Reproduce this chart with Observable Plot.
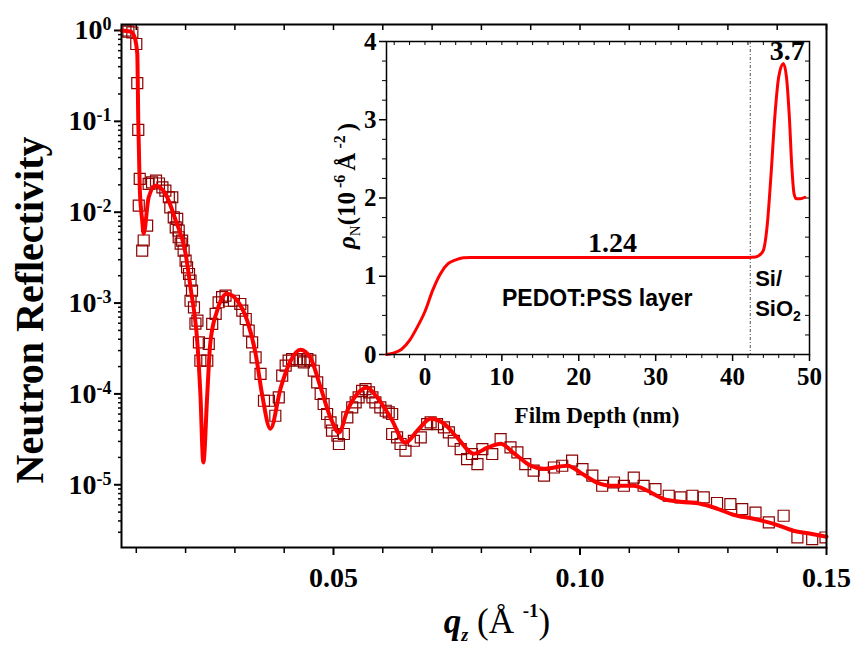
<!DOCTYPE html>
<html><head><meta charset="utf-8">
<script src="https://cdn.jsdelivr.net/npm/d3@7"></script>
<script src="https://cdn.jsdelivr.net/npm/@observablehq/plot@0.6"></script>
<style>
body{margin:0;background:#fff;}
#wrap{position:relative;width:854px;height:646px;overflow:hidden;}
#wrap svg{position:absolute;left:0;top:0;}
</style></head><body><div id="wrap"></div>
<script>
// ---- main panel: measured reflectivity (open squares) ----
const qData = [0.0078,0.0084,0.0092,0.0100,0.0102,0.0104,0.0105,0.0107,0.0112,0.0115,0.0122,0.0125,0.0132,0.0140,0.0146,0.0153,0.0159,0.0166,0.0169,0.0173,0.0176,0.0180,0.0183,0.0186,0.0186,0.0190,0.0193,0.0196,0.0200,0.0203,0.0207,0.0210,0.0210,0.0213,0.0217,0.0220,0.0224,0.0227,0.0230,0.0244,0.0247,0.0254,0.0261,0.0267,0.0274,0.0281,0.0288,0.0298,0.0311,0.0315,0.0322,0.0328,0.0335,0.0342,0.0352,0.0359,0.0369,0.0382,0.0389,0.0396,0.0403,0.0409,0.0416,0.0426,0.0433,0.0440,0.0447,0.0453,0.0460,0.0467,0.0474,0.0480,0.0487,0.0494,0.0497,0.0508,0.0511,0.0521,0.0528,0.0538,0.0545,0.0551,0.0558,0.0565,0.0572,0.0579,0.0585,0.0595,0.0606,0.0612,0.0619,0.0619,0.0629,0.0636,0.0646,0.0663,0.0677,0.0690,0.0697,0.0710,0.0724,0.0734,0.0744,0.0758,0.0771,0.0781,0.0792,0.0802,0.0822,0.0839,0.0859,0.0873,0.0889,0.0906,0.0927,0.0947,0.0964,0.0984,0.1005,0.1025,0.1045,0.1069,0.1089,0.1109,0.1129,0.1153,0.1180,0.1204,0.1228,0.1251,0.1278,0.1305,0.1329,0.1356,0.1383,0.1413,0.1441,0.1471,0.1498];
const rData = [1.00,0.97,0.95,0.71,0.263,0.0806,0.0118,0.0233,0.00378,0.00488,0.00711,0.0205,0.0213,0.0223,0.0207,0.0188,0.0173,0.0146,0.0113,0.0146,0.00879,0.00682,0.00843,0.0053,0.00627,0.00451,0.00487,0.00378,0.00293,0.00247,0.00209,0.00177,0.00106,0.00137,0.000897,0.000593,0.00064,0.000369,0.000232,0.000232,0.000355,0.000589,0.000759,0.00102,0.00116,0.00121,0.00106,0.00106,0.000977,0.000824,0.000668,0.000497,0.000369,0.000252,0.000166,8.41e-5,8.41e-5,5.75e-5,9.16e-5,1.59e-4,2.05e-4,2.32e-4,2.42e-4,2.42e-4,2.32e-4,2.22e-4,2.42e-4,2.32e-4,1.80e-4,1.34e-4,9.98e-5,7.74e-5,6.01e-5,4.86e-5,3.94e-5,3.47e-5,2.81e-5,3.62e-5,5.51e-5,7.10e-5,8.06e-5,9.16e-5,1.08e-4,1.13e-4,1.04e-4,9.16e-5,8.06e-5,7.10e-5,6.53e-5,6.25e-5,6.01e-5,3.62e-5,3.32e-5,2.81e-5,2.37e-5,3.05e-5,3.32e-5,4.66e-5,4.86e-5,4.66e-5,4.28e-5,3.77e-5,3.05e-5,2.47e-5,1.92e-5,2.18e-5,1.69e-5,2.47e-5,2.18e-5,3.18e-5,2.58e-5,2.27e-5,1.69e-5,1.43e-5,1.26e-5,1.55e-5,1.62e-5,1.84e-5,1.49e-5,1.26e-5,9.75e-6,1.06e-5,9.75e-6,1.20e-5,9.75e-6,8.97e-6,7.57e-6,7.25e-6,7.57e-6,7.25e-6,6.30e-6,6.14e-6,5.40e-6,4.95e-6,3.85e-6,4.56e-6,2.63e-6,2.52e-6,2.63e-6];
// ---- main panel: fitted curve ----
const qFit = [0.0070,0.0088,0.0096,0.0102,0.0104,0.0107,0.0112,0.0115,0.0125,0.0139,0.0159,0.0180,0.0200,0.0210,0.0224,0.0230,0.0236,0.0244,0.0250,0.0264,0.0284,0.0305,0.0325,0.0342,0.0355,0.0372,0.0393,0.0413,0.0433,0.0453,0.0474,0.0494,0.0511,0.0528,0.0548,0.0568,0.0589,0.0616,0.0646,0.0670,0.0697,0.0724,0.0751,0.0785,0.0812,0.0839,0.0865,0.0900,0.0926,0.0975,0.1001,0.1036,0.1062,0.1109,0.1137,0.1169,0.1204,0.1244,0.1279,0.1311,0.1352,0.1393,0.1433,0.1468,0.1500];
const rFit = [1.0,0.975,0.86,0.558,0.102,0.0187,0.00809,0.00581,0.0145,0.0196,0.016,0.00809,0.0035,0.00148,0.000357,0.0001,0.0000176,0.0001,0.000357,0.000824,0.00127,0.00106,0.00064,0.000277,0.0001,0.0000414,0.000117,0.000232,0.000307,0.000251,0.000117,0.0000547,0.0000374,0.0000653,0.0001,0.000117,0.0000908,0.0000547,0.000029,0.0000394,0.0000533,0.000047,0.000033,0.000022,0.0000256,0.0000283,0.0000225,0.0000162,0.000015,0.0000162,0.0000136,0.0000105,0.00000975,0.00000975,0.00000859,0.00000701,0.0000065,0.00000618,0.00000544,0.00000468,0.00000423,0.00000372,0.00000312,0.00000289,0.00000268];
const yMajor = [1,1e-1,1e-2,1e-3,1e-4,1e-5];
const yMajorExp = ["0","-1","-2","-3","-4","-5"];
const xMajor = [0.05,0.10,0.15];
const xMajorLabels = ["0.05","0.10","0.15"];
const xMinor = [0.01,0.02,0.03,0.04,0.06,0.07,0.08,0.09,0.11,0.12,0.13,0.14];

// ---- inset: SLD depth profile ----
const depth = [-5,-4,-3,-2,-1,0,1,2,3,4,5,6,10,20,30,40,42,43,43.5,44,44.5,45,45.5,46,46.6,47,47.4,47.7,48,48.3,48.8,49.4];
const sld   = [0,0.02,0.07,0.18,0.35,0.55,0.82,1.03,1.16,1.21,1.235,1.24,1.24,1.24,1.24,1.24,1.24,1.245,1.27,1.33,1.65,2.3,3.05,3.55,3.72,3.55,3.0,2.4,2.05,1.99,1.99,2.01];
const insetYMajor = [0,1,2,3,4];
const insetXMajor = [0,10,20,30,40,50];
const interfaceDepth = 42.3;
const serifNotes = [
  {x:24.4, y:1.24, text:"1.24"},
  {x:47.1, y:3.7, text:"3.7"}
];
const layerNote = [{x:22.4, y:0.72, text:"PEDOT:PSS layer"}];

const W = 854, H = 646;
const SERIF = "'Liberation Serif', serif";
const logMinor = [];
for (let k = -6; k <= 0; k++) for (let m = 2; m <= 9; m++) { const v = m * Math.pow(10, k); if (v > 2.05e-6 && v < 1.16) logMinor.push(v); }

const dataRows = qData.map((q, i) => ({q, r: rData[i]}));
const fitRows = qFit.map((q, i) => ({q, r: rFit[i]}));
const tickText = {fontVariant: "normal", fontFamily: SERIF, fontWeight: "bold"};

const main = Plot.plot({
  width: W, height: H,
  marginLeft: 121, marginRight: 28, marginTop: 24, marginBottom: 99,
  style: {background: "transparent", fontFamily: SERIF, color: "#000"},
  x: {domain: [0.007, 0.15]},
  y: {type: "log", domain: [2.04e-6, 1.164]},
  marks: [
    Plot.axisY(logMinor, {tickSize: 3, text: null, label: null, strokeWidth: 1.5}),
    Plot.axisY(yMajor, {tickSize: 7, tickPadding: 3, label: null, strokeWidth: 2, fontSize: 28, ...tickText,
      tickFormat: d => "10|" + yMajorExp[yMajor.indexOf(d)]}),
    Plot.axisX(xMinor, {tickSize: 6, text: null, label: null, strokeWidth: 1.5}),
    Plot.axisX(xMajor, {tickSize: 8, tickPadding: 12, label: null, strokeWidth: 2, fontSize: 28, ...tickText,
      tickFormat: d => xMajorLabels[xMajor.indexOf(d)]}),
    Plot.ruleX(xMinor.concat(xMajor), {insetBottom: 523 - 6, stroke: "#000", strokeWidth: 1.5}),
    Plot.dot(dataRows, {x: "q", y: "r", symbol: "square", r: 6.2, stroke: "#8B0000", strokeWidth: 1.2, fill: "none", clip: true}),
    Plot.line(fitRows, {x: "q", y: "r", stroke: "#ff0000", strokeWidth: 4, curve: "monotone-x"}),
    Plot.frame({stroke: "#000", strokeWidth: 2})
  ]
});

const insetMinorY = d3.range(0, 4.001, 0.25).filter(v => !insetYMajor.includes(v));
const insetMinorX = d3.range(-4, 50.001, 2).filter(v => !insetXMajor.includes(v));
const sldRows = depth.map((d, i) => ({d, s: sld[i]}));

const inset = Plot.plot({
  width: W, height: H,
  marginLeft: 386, marginRight: 45, marginTop: 41, marginBottom: 292,
  style: {background: "transparent", fontFamily: SERIF, color: "#000"},
  x: {domain: [-5, 50]},
  y: {domain: [0, 4]},
  marks: [
    Plot.axisY(insetMinorY, {tickSize: 4, text: null, label: null}),
    Plot.axisY(insetYMajor, {tickSize: 7, tickPadding: 3, label: null, strokeWidth: 1.5, fontSize: 25, ...tickText, tickFormat: d => String(d)}),
    Plot.axisX(insetMinorX, {tickSize: 4, text: null, label: null}),
    Plot.axisX(insetXMajor, {tickSize: 7, tickPadding: 6, label: null, strokeWidth: 1.5, fontSize: 25, ...tickText, tickFormat: d => String(d)}),
    Plot.ruleY(insetMinorY.concat(insetYMajor), {insetLeft: 423 - 4, stroke: "#000"}),
    Plot.ruleX(insetMinorX.concat(insetXMajor), {insetBottom: 313 - 4, stroke: "#000"}),
    Plot.ruleX([interfaceDepth], {stroke: "#555", strokeWidth: 1, strokeDasharray: "3,2,1,2"}),
    Plot.line(sldRows, {x: "d", y: "s", stroke: "#ff0000", strokeWidth: 3, curve: "monotone-x"}),
    Plot.text(serifNotes, {x: "x", y: "y", text: "text", dy: -14, fontFamily: SERIF, fontSize: 28, fontWeight: "bold", fill: "#000"}),
    Plot.text(layerNote, {x: "x", y: "y", text: "text", fontFamily: "'Liberation Sans', sans-serif", fontSize: 23, fontWeight: "bold", fill: "#000"}),
    Plot.frame({stroke: "#000", strokeWidth: 1.5})
  ]
});

const wrap = document.getElementById("wrap");
wrap.appendChild(main);
wrap.appendChild(inset);

// superscripts on log tick labels
d3.select(main).selectAll('g[aria-label="y-axis tick label"] text').each(function() {
  const parts = this.textContent.split("|");
  const s = d3.select(this);
  s.text(parts[0]);
  s.append("tspan").attr("dy", "-0.5em").style("font-size", "18px").text(parts[1]);
});

const ms = d3.select(main);
// y label
ms.append("text").attr("transform", "translate(43,310) rotate(-90)").attr("text-anchor", "middle")
  .style("font-family", SERIF).style("font-weight", "bold").style("font-size", "40px").attr("fill", "#000")
  .text("Neutron Reflectivity");
// x label
const xl = ms.append("text").attr("x", 497).attr("y", 633).attr("text-anchor", "middle")
  .style("font-family", SERIF).style("font-size", "35px").attr("fill", "#000");
xl.append("tspan").style("font-weight", "bold").style("font-style", "italic").text("q");
xl.append("tspan").style("font-weight", "bold").style("font-style", "italic").style("font-size", "18px").attr("dy", 8).text("z");
xl.append("tspan").attr("dy", -8).text(" (Å ");
xl.append("tspan").style("font-weight", "bold").style("font-size", "19px").attr("dy", -16).text("-1");
xl.append("tspan").attr("dy", 16).text(")");

const is = d3.select(inset);
const sx = inset.scale("x"), sy = inset.scale("y");
// inset y label
const yl = is.append("text").attr("transform", "translate(355,186) rotate(-90)").attr("text-anchor", "middle")
  .style("font-family", SERIF).style("font-weight", "bold").style("font-size", "25px").attr("fill", "#000");
yl.append("tspan").style("font-style", "italic").text("ρ");
yl.append("tspan").style("font-size", "15px").style("font-weight", "normal").attr("dy", 5).text("N");
yl.append("tspan").attr("dy", -5).text("(10");
yl.append("tspan").style("font-size", "16px").attr("dy", -10).text(" -6 ");
yl.append("tspan").attr("dy", 10).text("Å");
yl.append("tspan").style("font-size", "16px").attr("dy", -10).text(" -2 ");
yl.append("tspan").attr("dy", 10).text(")");
// inset x label
is.append("text").attr("x", 597).attr("y", 423).attr("text-anchor", "middle")
  .style("font-family", SERIF).style("font-weight", "bold").style("font-size", "23px").attr("fill", "#000")
  .text("Film Depth (nm)");
// Si / SiO2 labels
is.append("text").attr("x", sx.apply(43.0)).attr("y", sy.apply(0.87)).attr("text-anchor", "start")
  .style("font-family", "'Liberation Sans', sans-serif").style("font-weight", "bold").style("font-size", "22px").attr("fill", "#000").text("Si/");
const so = is.append("text").attr("x", sx.apply(43.0)).attr("y", sy.apply(0.49)).attr("text-anchor", "start")
  .style("font-family", "'Liberation Sans', sans-serif").style("font-weight", "bold").style("font-size", "22px").attr("fill", "#000");
so.append("tspan").text("SiO");
so.append("tspan").style("font-size", "14px").attr("dy", 5).text("2");
</script></body></html>
